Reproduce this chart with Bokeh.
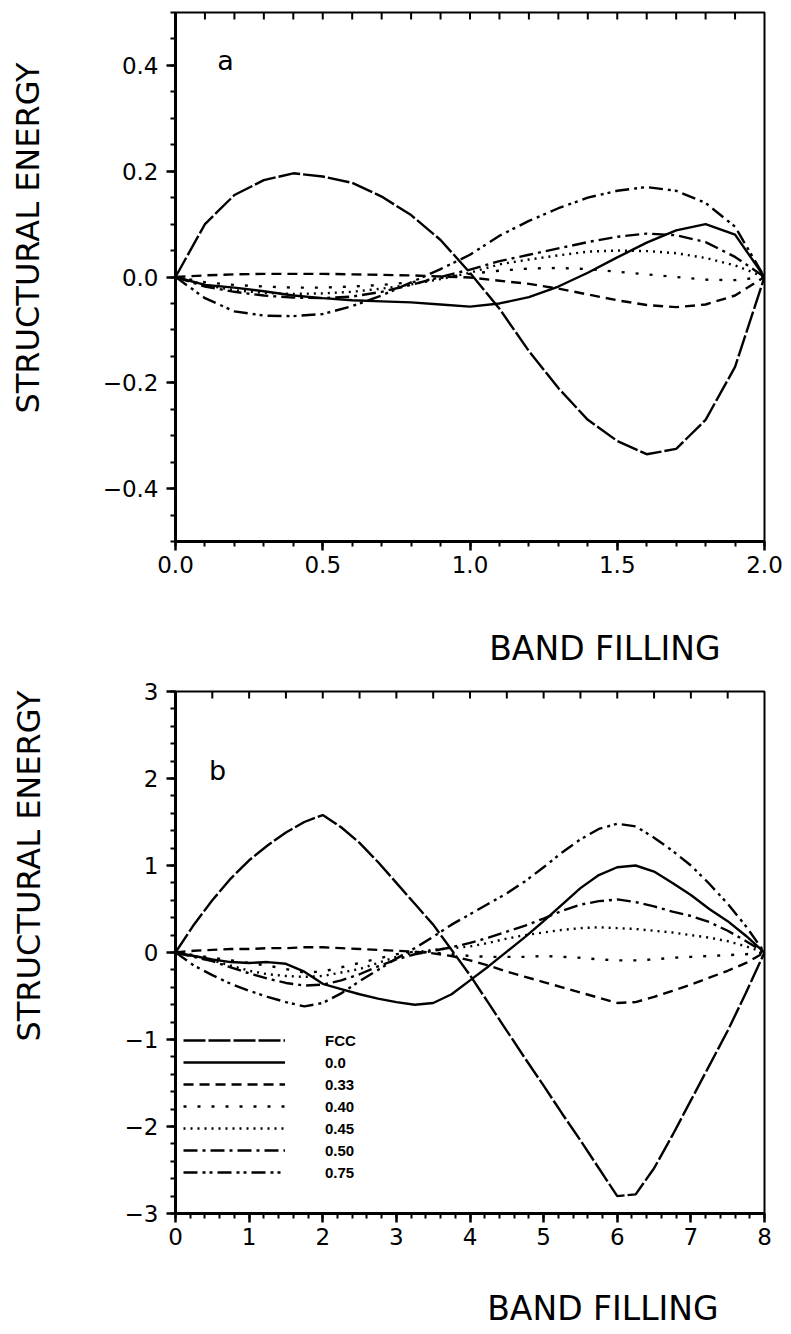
from bokeh.plotting import figure
from bokeh.layouts import column
from bokeh.models import (Range1d, LinearAxis, FixedTicker, Label, Legend, LegendItem, Title,
                          CustomLabelingPolicy)
from bokeh.embed import file_html
from bokeh.resources import INLINE

# ---------------- data: panel a (band filling 0..2) ----------------
x_a = [0.0, 0.1, 0.2, 0.3, 0.4, 0.5, 0.6, 0.7, 0.8, 0.9, 1.0,
       1.1, 1.2, 1.3, 1.4, 1.5, 1.6, 1.7, 1.8, 1.9, 2.0]
fcc_a = [0.0, 0.10, 0.155, 0.183, 0.196, 0.19, 0.178, 0.152, 0.117, 0.07, 0.008,
         -0.06, -0.14, -0.21, -0.27, -0.31, -0.335, -0.325, -0.27, -0.17, 0.0]
s000_a = [0.0, -0.015, -0.02, -0.027, -0.035, -0.04, -0.044, -0.046, -0.048, -0.052, -0.056,
          -0.05, -0.038, -0.018, 0.008, 0.037, 0.065, 0.088, 0.10, 0.08, 0.0]
s033_a = [0.0, 0.003, 0.005, 0.006, 0.006, 0.006, 0.005, 0.004, 0.003, 0.001, -0.001,
          -0.007, -0.013, -0.022, -0.033, -0.044, -0.053, -0.057, -0.052, -0.035, 0.0]
s040_a = [0.0, -0.01, -0.015, -0.018, -0.02, -0.02, -0.018, -0.015, -0.01, -0.002, 0.006,
          0.012, 0.016, 0.017, 0.015, 0.01, 0.005, 0.0, -0.005, -0.006, 0.0]
s045_a = [0.0, -0.015, -0.025, -0.03, -0.032, -0.031, -0.028, -0.022, -0.014, -0.004, 0.008,
          0.024, 0.033, 0.041, 0.048, 0.05, 0.049, 0.045, 0.036, 0.022, 0.0]
s050_a = [0.0, -0.018, -0.028, -0.035, -0.039, -0.04, -0.037, -0.028, -0.015, 0.0, 0.014,
          0.03, 0.042, 0.054, 0.066, 0.076, 0.082, 0.079, 0.066, 0.038, 0.0]
s075_a = [0.0, -0.04, -0.065, -0.073, -0.074, -0.07, -0.055, -0.035, -0.01, 0.015, 0.042,
          0.078, 0.106, 0.13, 0.15, 0.163, 0.17, 0.163, 0.14, 0.095, 0.0]

# ---------------- data: panel b (band filling 0..8) ----------------
x_b = [0.0, 0.25, 0.5, 0.75, 1.0, 1.25, 1.5, 1.75, 2.0, 2.25, 2.5, 2.75, 3.0,
       3.25, 3.5, 3.75, 4.0, 4.25, 4.5, 4.75, 5.0, 5.25, 5.5, 5.75, 6.0,
       6.25, 6.5, 6.75, 7.0, 7.25, 7.5, 7.75, 8.0]
fcc_b = [0.0, 0.32, 0.6, 0.85, 1.06, 1.23, 1.38, 1.5, 1.58, 1.44, 1.26, 1.04, 0.8,
         0.56, 0.32, 0.03, -0.26, -0.58, -0.9, -1.22, -1.53, -1.85, -2.16, -2.48, -2.8,
         -2.78, -2.48, -2.1, -1.7, -1.3, -0.9, -0.46, 0.0]
s000_b = [0.0, -0.04, -0.08, -0.11, -0.12, -0.11, -0.13, -0.22, -0.36, -0.42, -0.48, -0.53, -0.57,
          -0.6, -0.58, -0.48, -0.32, -0.16, 0.01, 0.18, 0.36, 0.55, 0.74, 0.89, 0.98,
          1.0, 0.93, 0.8, 0.66, 0.5, 0.36, 0.19, 0.0]
s033_b = [0.0, 0.02, 0.03, 0.04, 0.04, 0.05, 0.05, 0.06, 0.06, 0.05, 0.04, 0.03, 0.02,
          0.01, -0.01, -0.04, -0.09, -0.15, -0.22, -0.28, -0.34, -0.4, -0.46, -0.52, -0.58,
          -0.57, -0.51, -0.44, -0.37, -0.29, -0.21, -0.12, 0.0]
s040_b = [0.0, -0.03, -0.06, -0.09, -0.12, -0.15, -0.19, -0.23, -0.22, -0.17, -0.12, -0.07, -0.02,
          0.01, 0.0, -0.02, -0.04, -0.05, -0.05, -0.05, -0.04, -0.05, -0.06, -0.08, -0.09,
          -0.09, -0.08, -0.06, -0.05, -0.04, -0.03, -0.02, 0.0]
s045_b = [0.0, -0.04, -0.09, -0.15, -0.21, -0.25, -0.27, -0.28, -0.27, -0.23, -0.19, -0.12, -0.05,
          0.0, 0.03, 0.05, 0.07, 0.11, 0.16, 0.2, 0.23, 0.26, 0.28, 0.29, 0.28,
          0.27, 0.25, 0.23, 0.2, 0.17, 0.13, 0.07, 0.0]
s050_b = [0.0, -0.05, -0.1, -0.17, -0.24, -0.3, -0.35, -0.38, -0.37, -0.32, -0.25, -0.16, -0.08,
          -0.02, 0.02, 0.06, 0.11, 0.17, 0.24, 0.31, 0.39, 0.48, 0.55, 0.59, 0.61,
          0.58, 0.53, 0.47, 0.42, 0.35, 0.25, 0.13, 0.0]
s075_b = [0.0, -0.15, -0.26, -0.36, -0.44, -0.51, -0.57, -0.62, -0.58, -0.47, -0.33, -0.2, -0.07,
          0.05, 0.18, 0.32, 0.44, 0.56, 0.68, 0.82, 0.98, 1.15, 1.3, 1.42, 1.48,
          1.45, 1.32, 1.17, 1.0, 0.79, 0.56, 0.3, 0.0]

series_names = ["FCC", "0.0", "0.33", "0.40", "0.45", "0.50", "0.75"]
dashes = ["22 3", "solid", "10 6", "3 11", "2 5", "14 5 3 5", "14 5 3 4 3 5"]

# tick positions / labels
xa_major = [0.0, 0.5, 1.0, 1.5, 2.0]
xa_minor = [i / 10 for i in range(0, 21)]
xa_top = [i / 10 for i in range(1, 20)]
ya_major = [-0.4, -0.2, 0.0, 0.2, 0.4]
ya_minor = [i / 20 for i in range(-10, 11)]
xb_major = [0, 1, 2, 3, 4, 5, 6, 7, 8]
xb_minor = [i / 5 for i in range(0, 41)]
xb_top = [i / 2 for i in range(1, 16)]
yb_major = [-3, -2, -1, 0, 1, 2, 3]
yb_minor = [i / 5 for i in range(-15, 16)]

X_TITLE = "BAND FILLING"
Y_TITLE = "STRUCTURAL ENERGY"

FONT = "DejaVu Sans"
TICK_SIZE = "23px"
X_TITLE_SIZE = "33px"
Y_TITLE_SIZE = "32px"


def fmt(v, dec):
    s = f"{v:.{dec}f}"
    return s.replace("-", "\u2212")


def style_axis(ax, out_major=9, out_minor=5):
    ax.axis_line_width = 3
    ax.major_tick_line_width = 2.5
    ax.minor_tick_line_width = 2
    ax.major_tick_out = out_major
    ax.major_tick_in = 0
    ax.minor_tick_out = out_minor
    ax.minor_tick_in = 0
    ax.major_label_text_font = FONT
    ax.major_label_text_font_size = TICK_SIZE
    ax.major_label_text_color = "black"


def make_fig(height, xr, yr, left, right, top, bottom):
    p = figure(width=791, height=height, x_range=Range1d(*xr), y_range=Range1d(*yr),
               output_backend="svg", toolbar_location=None,
               min_border_left=left, min_border_right=right,
               min_border_top=top, min_border_bottom=bottom,
               x_axis_location=None, y_axis_location=None)
    p.grid.visible = False
    p.outline_line_color = "black"
    p.outline_line_width = 2
    p.background_fill_color = "white"
    p.border_fill_color = "white"
    return p


def add_axes(p, xmaj, xmin, ymaj, ymin, xdec, ydec, top_ticks, yr, tick_len):
    xax = LinearAxis(ticker=FixedTicker(ticks=xmaj, minor_ticks=xmin))
    style_axis(xax)
    xax.major_label_standoff = 5
    xax.major_label_overrides = {v: fmt(v, xdec) for v in xmaj}
    p.add_layout(xax, "below")
    yax = LinearAxis(ticker=FixedTicker(ticks=ymaj, minor_ticks=ymin))
    style_axis(yax)
    yax.major_label_standoff = 8
    yax.major_label_overrides = {v: fmt(v, ydec) for v in ymaj}
    p.add_layout(yax, "left")
    # inward tick marks along the top edge of the frame
    p.segment(x0=top_ticks, x1=top_ticks, y0=[yr[1]] * len(top_ticks),
              y1=[yr[1] - tick_len] * len(top_ticks), line_color="black", line_width=2)


HIDE_ALL = CustomLabelingPolicy(code="for (const i of indices) indices.unset(i)")


def spacer(p, side, size, mid):
    # blank axis (white tick, no labels) used only to push the axis titles outward
    ax = LinearAxis(ticker=FixedTicker(ticks=[mid], minor_ticks=[]))
    ax.axis_line_color = None
    ax.major_tick_line_color = "white"
    ax.minor_tick_line_color = None
    ax.major_tick_out = size
    ax.major_tick_in = 0
    ax.minor_tick_out = 0
    ax.minor_tick_in = 0
    ax.major_label_standoff = 0
    ax.major_label_text_font_size = "1px"
    ax.major_label_policy = HIDE_ALL
    p.add_layout(ax, side)


def add_titles(p, x_off, x_space, y_off, y_space, xmid, ymid):
    spacer(p, "below", x_space, xmid)
    spacer(p, "left", y_space, ymid)
    p.add_layout(Title(text=X_TITLE, align="right", offset=x_off, standoff=4,
                       text_font=FONT, text_font_size=X_TITLE_SIZE,
                       text_font_style="normal", text_color="black"), "below")
    p.add_layout(Title(text=Y_TITLE, align="left", offset=y_off, standoff=4,
                       text_font=FONT, text_font_size=Y_TITLE_SIZE,
                       text_font_style="normal", text_color="black"), "left")


# ---------------- panel a ----------------
pa = make_fig(680, (0, 2), (-0.5, 0.5), 170, 27, 12, 139)
add_axes(pa, xa_major, xa_minor, ya_major, ya_minor, 1, 1, xa_top, (-0.5, 0.5), 0.013)
ys_a = [fcc_a, s000_a, s033_a, s040_a, s045_a, s050_a, s075_a]
for ys, d in zip(ys_a, dashes):
    pa.line(x_a, ys, line_color="black", line_width=2.4, line_dash=d)
pa.add_layout(Label(x=0.17, y=0.41, text="a", text_font=FONT, text_font_size="27px",
                    text_color="black", text_align="center", text_baseline="middle"))
add_titles(pa, 44, 45, 128, 47, 1.0, 0.0)

# ---------------- panel b ----------------
pb = make_fig(654, (0, 8), (-3, 3), 175, 25, 11, 121)
add_axes(pb, xb_major, xb_minor, yb_major, yb_minor, 0, 0, xb_top, (-3, 3), 0.08)
ys_b = [fcc_b, s000_b, s033_b, s040_b, s045_b, s050_b, s075_b]
items = []
for name, ys, d in zip(series_names, ys_b, dashes):
    r = pb.line(x_b, ys, line_color="black", line_width=2.4, line_dash=d)
    items.append(LegendItem(label=name, renderers=[r]))

legend = Legend(items=items, location=(8, 31), glyph_width=102, glyph_height=20,
                label_height=20, spacing=2, label_standoff=40, padding=0, margin=0,
                border_line_alpha=0, background_fill_alpha=0,
                label_text_font="Liberation Sans", label_text_font_size="15px",
                label_text_font_style="bold", label_text_color="black")
pb.add_layout(legend)
pb.add_layout(Label(x=0.57, y=2.09, text="b", text_font=FONT, text_font_size="27px",
                    text_color="black", text_align="center", text_baseline="middle"))
add_titles(pb, 46, 33, 172, 68, 4.0, 0.0)

layout = column(pa, pb, spacing=0)
open("out.html", "w").write(file_html(layout, INLINE))
